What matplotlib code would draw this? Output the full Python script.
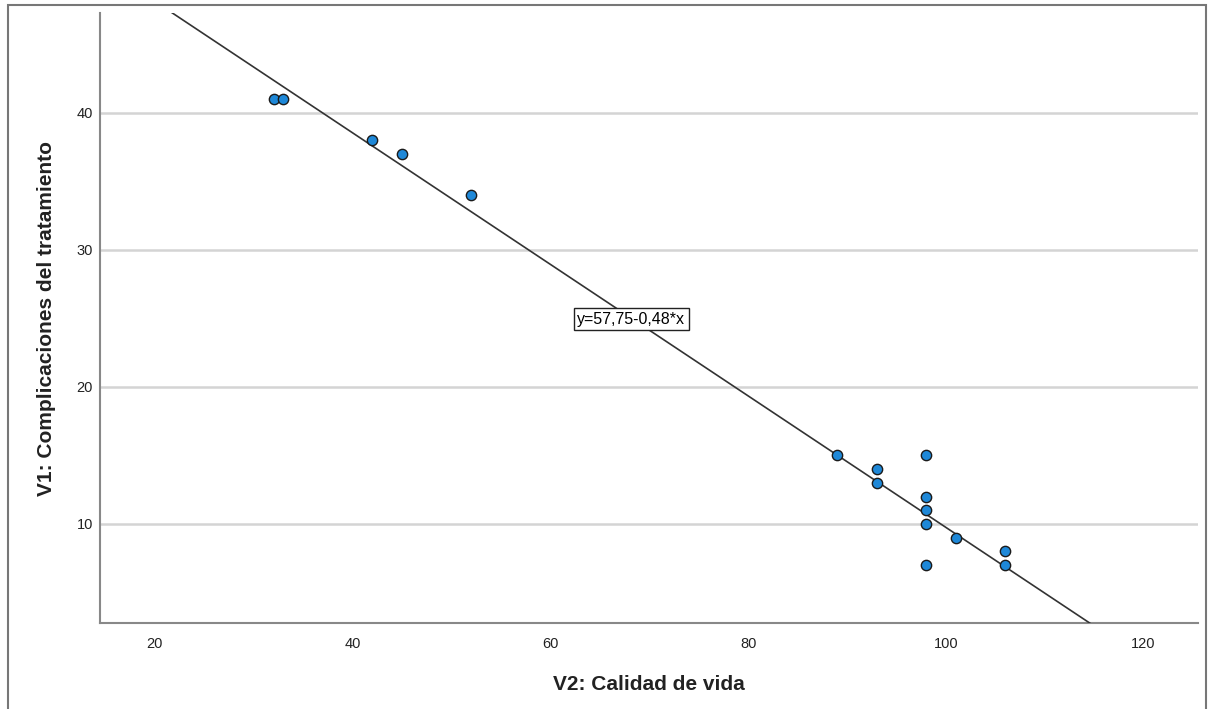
import numpy as np
import matplotlib
matplotlib.use('Agg')
import matplotlib.pyplot as plt
from matplotlib.patches import Rectangle

# Data
calidad = [32, 33, 42, 45, 52, 89, 93, 93, 98, 98, 98, 98, 98, 101, 106, 106]
complicaciones = [41, 41, 38, 37, 34, 15, 14, 13, 15, 12, 11, 10, 7, 9, 8, 7]
intercept = 57.75
slope = -0.48
xticks = [20, 40, 60, 80, 100, 120]
yticks = [10, 20, 30, 40]

plt.rcParams['font.family'] = ['Liberation Sans', 'DejaVu Sans']

fig = plt.figure(figsize=(12.08, 7.09), dpi=100)
ax = fig.add_axes([100/1208, 1-623/709, 1098/1208, 610/709])

xlim = (14.45, 125.5)
ylim = (2.77, 47.3)
ax.set_xlim(*xlim)
ax.set_ylim(*ylim)

# fit line
xs = np.array(xlim)
ax.plot(xs, intercept + slope*xs, color='#333333', lw=1.2, zorder=3)

ax.scatter(calidad, complicaciones, s=55, c='#1e88d8', edgecolors='#1a1a1a',
           linewidths=1.0, zorder=4)

eq = 'y=%s-%s*x' % (f'{intercept:.2f}'.replace('.', ','), f'{-slope:.2f}'.replace('.', ','))
ax.text(68.2, 24.96, eq, ha='center', va='center', fontsize=11.5, zorder=5,
        bbox=dict(boxstyle='square,pad=0.22', fc='white', ec='#222222', lw=1.0))

ax.set_xticks(xticks)
ax.set_yticks(yticks)
ax.tick_params(length=0, labelsize=10.5, colors='#222222')
ax.tick_params(axis='x', pad=10)
ax.tick_params(axis='y', pad=5)
ax.yaxis.grid(True, color='#d4d4d4', lw=1.8)
ax.set_axisbelow(True)

for s in ['top', 'right']:
    ax.spines[s].set_visible(False)
for s in ['left', 'bottom']:
    ax.spines[s].set_color('#888888')
    ax.spines[s].set_linewidth(1.5)

ax.set_xlabel('V2: Calidad de vida', fontsize=15, fontweight='bold', color='#222222', labelpad=17)
ax.set_ylabel('V1: Complicaciones del tratamiento', fontsize=15, fontweight='bold', color='#222222', labelpad=15)

# outer frame
fig.patches.append(Rectangle((8/1208, -0.05), 1198/1208, 1-5/709+0.05, transform=fig.transFigure,
                             fill=False, ec='#777777', lw=1.5, clip_on=False))

fig.savefig('out.png', dpi=100)
